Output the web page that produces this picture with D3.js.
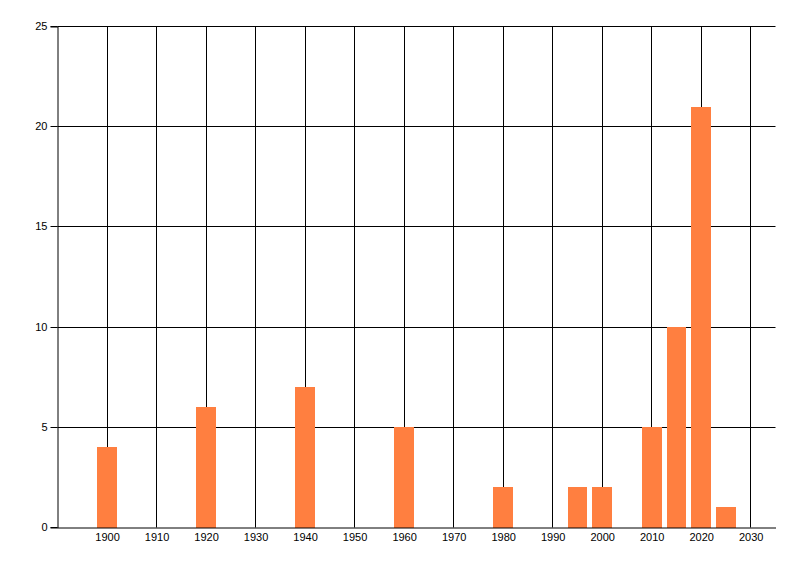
<!DOCTYPE html>
<html>
<head>
<meta charset="utf-8">
<script src="https://cdn.jsdelivr.net/npm/d3@7"></script>
<style>
  body { margin: 0; background: #fff; }
  svg text { font-family: "Liberation Sans", Arial, sans-serif; font-size: 11px; fill: #000; }
</style>
</head>
<body>
<div id="chart"></div>
<script>
// Data
const years = [1900, 1920, 1940, 1960, 1980, 1995, 2000, 2010, 2015, 2020, 2025];
const counts = [4, 6, 7, 5, 2, 2, 2, 5, 10, 21, 1];
const xTicks = [1900, 1910, 1920, 1930, 1940, 1950, 1960, 1970, 1980, 1990, 2000, 2010, 2020, 2030];
const yTicks = [0, 5, 10, 15, 20, 25];

const width = 800, height = 576;
const svg = d3.select('#chart').append('svg')
    .attr('width', width)
    .attr('height', height);

// Scales
const xScale = d3.scaleLinear().domain([1890, 2035]).range([57.5, 775.5]);
const yScale = d3.scaleLinear().domain([0, 25]).range([527.5, 26.5]);
const barYears = 4; // bar width in years
const px = v => Math.round(v - 0.5) + 0.5; // crisp 1px lines

// Grid lines
svg.append('g').selectAll('line.vgrid')
    .data(xTicks)
    .join('line')
    .attr('x1', d => px(xScale(d)))
    .attr('x2', d => px(xScale(d)))
    .attr('y1', yScale(25))
    .attr('y2', yScale(0))
    .attr('stroke', '#000');
svg.append('g').selectAll('line.hgrid')
    .data(yTicks.filter(d => d > 0))
    .join('line')
    .attr('x1', xScale.range()[0])
    .attr('x2', xScale.range()[1])
    .attr('y1', d => px(yScale(d)))
    .attr('y2', d => px(yScale(d)))
    .attr('stroke', '#000');

// Bars
svg.append('g').selectAll('rect')
    .data(years.map((y, i) => ({ year: y, count: counts[i] })))
    .join('rect')
    .attr('x', d => Math.round(xScale(d.year - barYears / 2)))
    .attr('width', d => Math.round(xScale(d.year + barYears / 2)) - Math.round(xScale(d.year - barYears / 2)))
    .attr('y', d => Math.round(yScale(d.count)))
    .attr('height', d => Math.round(yScale(0)) - Math.round(yScale(d.count)))
    .attr('fill', '#ff7f40');

// Y axis
const yAxis = svg.append('g')
    .attr('transform', `translate(${xScale.range()[0]},0)`)
    .call(d3.axisLeft(yScale).tickValues(yTicks).tickSize(7).tickPadding(3));
yAxis.select('.domain').attr('stroke', '#000');
yAxis.selectAll('.tick').attr('transform', d => `translate(0,${px(yScale(d))})`);
yAxis.selectAll('.tick line').attr('stroke', '#000');
yAxis.selectAll('text').attr('font-size', null).attr('font-family', null);

// X axis
const xAxis = svg.append('g')
    .attr('transform', `translate(0,${yScale(0)})`)
    .call(d3.axisBottom(xScale).tickValues(xTicks).tickFormat(d3.format('d')).tickSize(0).tickPadding(6));
xAxis.select('.domain').attr('stroke', '#000');
xAxis.selectAll('text').attr('font-size', null).attr('font-family', null);
</script>
</body>
</html>
